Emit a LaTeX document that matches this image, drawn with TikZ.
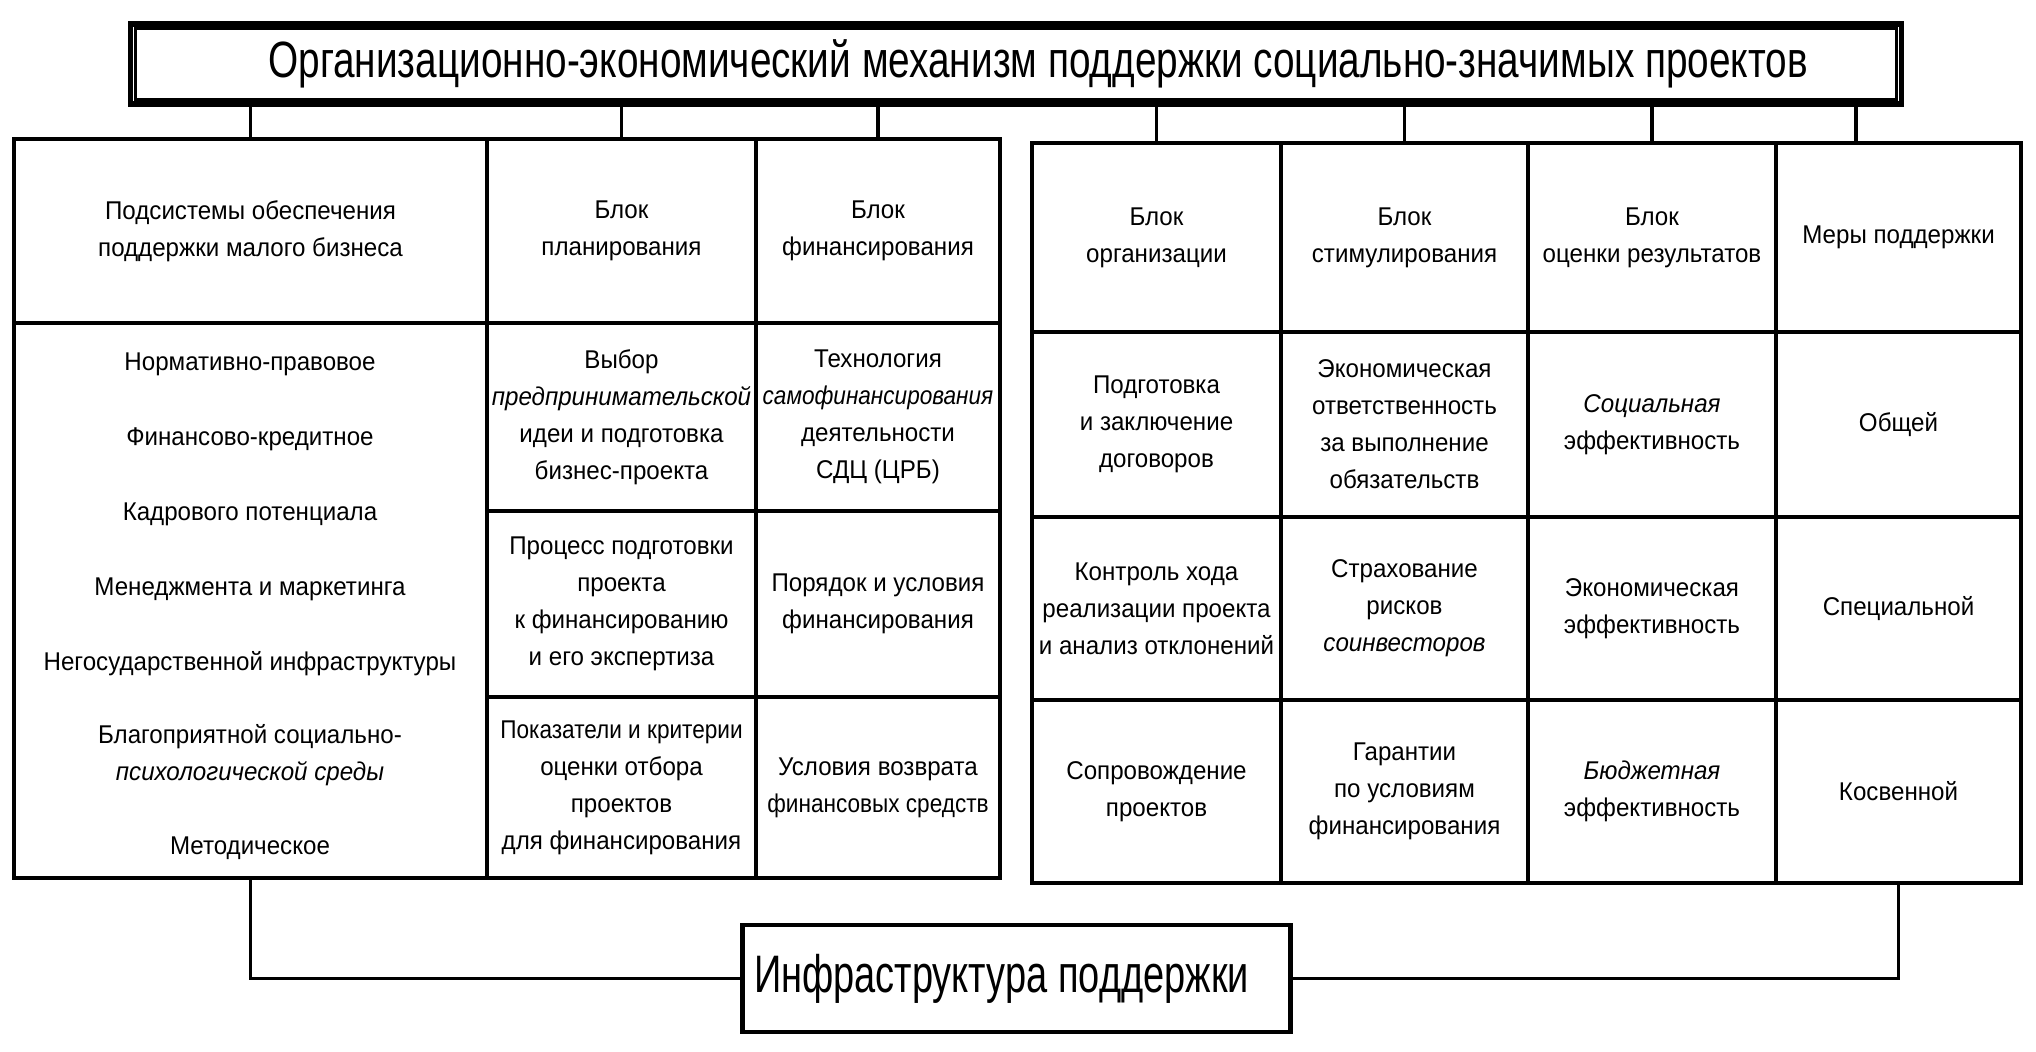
\documentclass[tikz,border=0pt]{standalone}
\usepackage{fontspec}
\setmainfont[FakeStretch=0.94]{Liberation Sans}
\newfontfamily\narrowfont[FakeStretch=0.88]{Liberation Sans}
\newfontfamily\titlefont[FakeStretch=0.76]{Liberation Sans}
\newfontfamily\infrafont[FakeStretch=0.72]{Liberation Sans}
\newcommand{\narrowtxt}[1]{{\narrowfont #1}}
\tikzset{
  cell/.style={draw, line width=1.3pt, inner sep=1pt, align=center, font=\fontsize{7.3pt}{10.5pt}\selectfont},
  item/.style={align=center, font=\fontsize{7.3pt}{10.5pt}\selectfont},
  conn/.style={line width=1.1pt},
}

\begin{document}
\begin{tikzpicture}[x=0.01cm, y=-0.01cm]
  \useasboundingbox (0,0) rectangle (2036,1052);
  %% Title box (double frame)
  \node[draw, line width=1.6pt, minimum width=17.70cm, minimum height=0.80cm, font=\titlefont\fontsize{14.5pt}{17pt}\selectfont] (ttl) at (1016,64) {\hspace*{0.44cm}Организационно-экономический механизм поддержки социально-значимых проектов};
  \draw[line width=0.9pt] ([shift={(0.075cm,-0.075cm)}]ttl.north west) rectangle ([shift={(-0.075cm,0.075cm)}]ttl.south east);

  %% Left table: headers
  \node[cell, minimum width=4.73cm, minimum height=1.84cm] (hsub) at (250.5,231) {Подсистемы обеспечения\\поддержки малого бизнеса};
  \node[cell, minimum width=2.69cm, minimum height=1.84cm] (hplan) at (621.5,231) {Блок\\планирования};
  \node[cell, minimum width=2.44cm, minimum height=1.84cm] (hfin) at (878,231) {Блок\\финансирования};
  %% Left table: subsystems
  \node[cell, minimum width=4.73cm, minimum height=5.55cm] (sub) at (250.5,600.5) {};
  \node[item] (sub1) at (250,364) {Нормативно-правовое};
  \node[item] (sub2) at (250,439) {Финансово-кредитное};
  \node[item] (sub3) at (250,514) {Кадрового потенциала};
  \node[item] (sub4) at (250,589) {Менеджмента и маркетинга};
  \node[item] (sub5) at (250,664) {Негосударственной инфраструктуры};
  \node[item] (sub6) at (250,755) {Благоприятной социально-\\\textit{психологической среды}};
  \node[item] (sub7) at (250,848) {Методическое};
  %% Left table: planning and financing
  \node[cell, minimum width=2.69cm, minimum height=1.88cm] (plan1) at (621.5,417) {Выбор\\\textit{предпринимательской}\\идеи и подготовка\\бизнес-проекта};
  \node[cell, minimum width=2.69cm, minimum height=1.86cm] (plan2) at (621.5,604) {Процесс подготовки\\проекта\\к финансированию\\и его экспертиза};
  \node[cell, minimum width=2.69cm, minimum height=1.81cm] (plan3) at (621.5,787.5) {\narrowtxt{Показатели и критерии}\\оценки отбора\\проектов\\для финансирования};
  \node[cell, minimum width=2.44cm, minimum height=1.88cm] (fin1) at (878,417) {Технология\\\narrowtxt{\textit{самофинансирования}}\\деятельности\\СДЦ (ЦРБ)};
  \node[cell, minimum width=2.44cm, minimum height=1.86cm] (fin2) at (878,604) {Порядок и условия\\финансирования};
  \node[cell, minimum width=2.44cm, minimum height=1.81cm] (fin3) at (878,787.5) {Условия возврата\\\narrowtxt{финансовых средств}};

  %% Right table: headers
  \node[cell, minimum width=2.49cm, minimum height=1.89cm] (horg) at (1156.5,237.5) {Блок\\организации};
  \node[cell, minimum width=2.47cm, minimum height=1.89cm] (hstim) at (1404.5,237.5) {Блок\\стимулирования};
  \node[cell, minimum width=2.48cm, minimum height=1.89cm] (hres) at (1652,237.5) {Блок\\оценки результатов};
  \node[cell, minimum width=2.45cm, minimum height=1.89cm] (hmer) at (1898.5,237.5) {Меры поддержки};
  %% Right table: rows
  \node[cell, minimum width=2.49cm, minimum height=1.85cm] (org1) at (1156.5,424.5) {Подготовка\\и заключение\\договоров};
  \node[cell, minimum width=2.49cm, minimum height=1.83cm] (org2) at (1156.5,608.5) {Контроль хода\\реализации проекта\\и анализ отклонений};
  \node[cell, minimum width=2.49cm, minimum height=1.83cm] (org3) at (1156.5,791.5) {Сопровождение\\проектов};
  \node[cell, minimum width=2.47cm, minimum height=1.85cm] (stim1) at (1404.5,424.5) {Экономическая\\ответственность\\за выполнение\\обязательств};
  \node[cell, minimum width=2.47cm, minimum height=1.83cm] (stim2) at (1404.5,608.5) {Страхование\\рисков\\\textit{соинвесторов}};
  \node[cell, minimum width=2.47cm, minimum height=1.83cm] (stim3) at (1404.5,791.5) {Гарантии\\по условиям\\финансирования};
  \node[cell, minimum width=2.48cm, minimum height=1.85cm] (res1) at (1652,424.5) {\textit{Социальная}\\эффективность};
  \node[cell, minimum width=2.48cm, minimum height=1.83cm] (res2) at (1652,608.5) {Экономическая\\эффективность};
  \node[cell, minimum width=2.48cm, minimum height=1.83cm] (res3) at (1652,791.5) {\textit{Бюджетная}\\эффективность};
  \node[cell, minimum width=2.45cm, minimum height=1.85cm] (mer1) at (1898.5,424.5) {Общей};
  \node[cell, minimum width=2.45cm, minimum height=1.83cm] (mer2) at (1898.5,608.5) {Специальной};
  \node[cell, minimum width=2.45cm, minimum height=1.83cm] (mer3) at (1898.5,791.5) {Косвенной};

  %% Bottom box
  \node[draw, line width=1.3pt, minimum width=5.47cm, minimum height=1.07cm, font=\infrafont\fontsize{15pt}{18pt}\selectfont] (infra) at (1016.5,978.5) {Инфраструктура поддержки\hspace*{0.3cm}};

  %% Connectors
  \coordinate (mtop) at (1856,143);
  \draw[conn] (ttl.south -| hsub.north) -- (hsub.north);
  \draw[conn] (ttl.south -| hplan.north) -- (hplan.north);
  \draw[conn] (ttl.south -| hfin.north) -- (hfin.north);
  \draw[conn] (ttl.south -| horg.north) -- (horg.north);
  \draw[conn] (ttl.south -| hstim.north) -- (hstim.north);
  \draw[conn] (ttl.south -| hres.north) -- (hres.north);
  \draw[conn] (ttl.south -| mtop) -- (mtop);
  \draw[conn] (sub.south) |- (infra.west);
  \draw[conn] (infra.east) -| (mer3.south);
\end{tikzpicture}
\end{document}
